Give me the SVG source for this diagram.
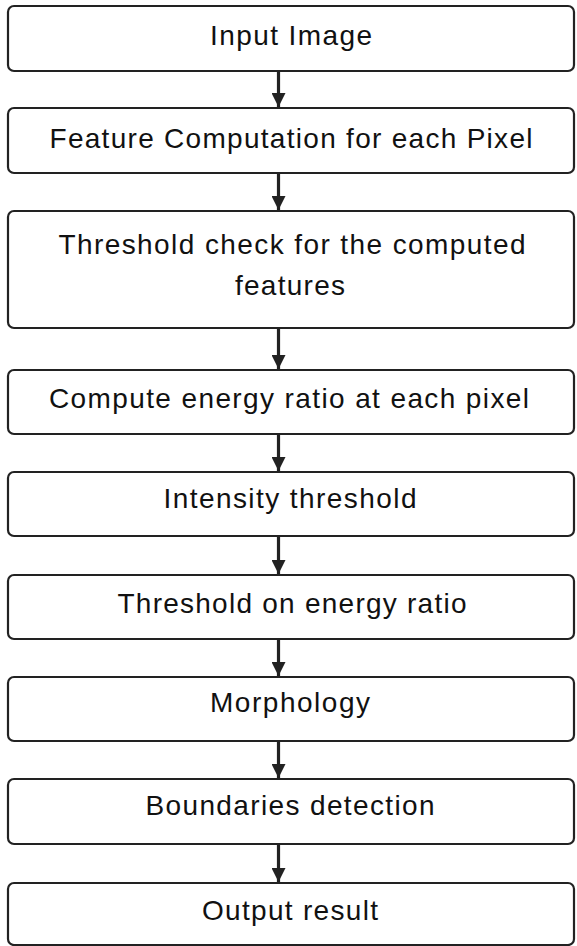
<svg xmlns="http://www.w3.org/2000/svg" width="577" height="946" viewBox="0 0 577 946">
<style>
.box{fill:#fff;stroke:#222;stroke-width:2.2}
.lbl{font-family:"Liberation Sans",Arial,sans-serif;font-size:28px;fill:#111;text-anchor:middle}
.conn{stroke:#222;stroke-width:3.2;fill:none}
</style>
<defs>
<marker id="ah" markerUnits="userSpaceOnUse" markerWidth="14" markerHeight="14" viewBox="0 0 13 13" refX="13" refY="6.5" orient="auto">
<path d="M0,0 L13,6.5 L0,13 z" fill="#222"/>
</marker>
</defs>
<rect width="577" height="946" fill="#fff"/>
<g id="connectors">
<line class="conn" x1="278.5" y1="71" x2="278.5" y2="107" marker-end="url(#ah)"/>
<line class="conn" x1="278.5" y1="173" x2="278.5" y2="210" marker-end="url(#ah)"/>
<line class="conn" x1="278.5" y1="328" x2="278.5" y2="369" marker-end="url(#ah)"/>
<line class="conn" x1="278.5" y1="434" x2="278.5" y2="471" marker-end="url(#ah)"/>
<line class="conn" x1="278.5" y1="536" x2="278.5" y2="574" marker-end="url(#ah)"/>
<line class="conn" x1="278.5" y1="639" x2="278.5" y2="676" marker-end="url(#ah)"/>
<line class="conn" x1="278.5" y1="741" x2="278.5" y2="778" marker-end="url(#ah)"/>
<line class="conn" x1="278.5" y1="844" x2="278.5" y2="882" marker-end="url(#ah)"/>
</g>
<g id="n1"><rect class="box" x="8" y="6" width="566" height="65" rx="6"/><text class="lbl" x="291" y="45" textLength="162" lengthAdjust="spacing">Input Image</text></g>
<g id="n2"><rect class="box" x="8" y="108" width="566" height="65" rx="6"/><text class="lbl" x="291" y="148" textLength="483" lengthAdjust="spacing">Feature Computation for each Pixel</text></g>
<g id="n3"><rect class="box" x="8" y="211" width="566" height="117" rx="6"/><text class="lbl" x="292" y="254" textLength="467" lengthAdjust="spacing">Threshold check for the computed</text><text class="lbl" x="290" y="295" textLength="110" lengthAdjust="spacing">features</text></g>
<g id="n4"><rect class="box" x="8" y="370" width="566" height="64" rx="6"/><text class="lbl" x="289" y="408" textLength="480" lengthAdjust="spacing">Compute energy ratio at each pixel</text></g>
<g id="n5"><rect class="box" x="8" y="472" width="566" height="64" rx="6"/><text class="lbl" x="290" y="508" textLength="253" lengthAdjust="spacing">Intensity threshold</text></g>
<g id="n6"><rect class="box" x="8" y="575" width="566" height="64" rx="6"/><text class="lbl" x="292" y="613" textLength="349" lengthAdjust="spacing">Threshold on energy ratio</text></g>
<g id="n7"><rect class="box" x="8" y="677" width="566" height="64" rx="6"/><text class="lbl" x="290" y="712" textLength="160" lengthAdjust="spacing">Morphology</text></g>
<g id="n8"><rect class="box" x="8" y="779" width="566" height="65" rx="6"/><text class="lbl" x="290" y="815" textLength="289" lengthAdjust="spacing">Boundaries detection</text></g>
<g id="n9"><rect class="box" x="8" y="883" width="566" height="62" rx="6"/><text class="lbl" x="290" y="920" textLength="176" lengthAdjust="spacing">Output result</text></g>
</svg>
